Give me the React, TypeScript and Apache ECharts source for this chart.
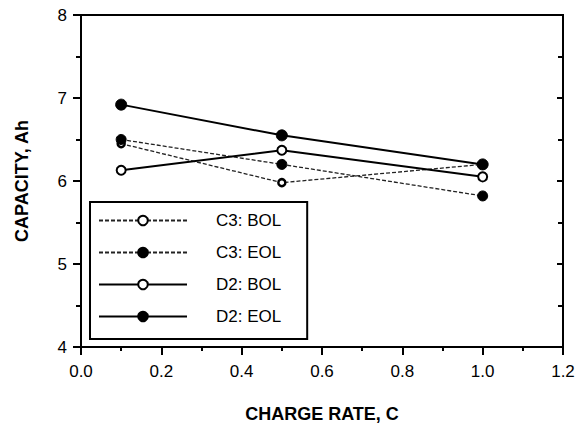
import React, { useEffect, useRef } from "react";
import * as echarts from "echarts";

const chargeRates = [0.1, 0.5, 1.0];
const c3Bol = [6.45, 5.98, 6.2];
const c3Eol = [6.5, 6.2, 5.82];
const d2Bol = [6.13, 6.37, 6.05];
const d2Eol = [6.92, 6.55, 6.2];
const seriesNames = ["C3: BOL", "C3: EOL", "D2: BOL", "D2: EOL"];

const pair = (vals: number[]) => chargeRates.map((x, i) => [x, vals[i]]);

export default function App() {
  const ref = useRef<HTMLDivElement>(null);
  useEffect(() => {
    if (!ref.current) return;
    document.body.style.margin = "0";
    const chart = echarts.init(ref.current, null, { renderer: "svg" });
    const font = "Liberation Sans, Arial, Helvetica, sans-serif";
    const dotted = { color: "#222", width: 1.3, type: [4, 2] as any };
    const solid = { color: "#000", width: 2, type: "solid" as any };
    chart.setOption({
      animation: false,
      backgroundColor: "#fff",
      grid: {
        left: 81,
        right: 15,
        top: 15,
        bottom: 75,
        show: true,
        borderColor: "#000",
        borderWidth: 2,
      },
      legend: {
        data: seriesNames,
        orient: "vertical",
        left: 90,
        top: 202,
        backgroundColor: "#fff",
        borderColor: "#000",
        borderWidth: 2,
        borderRadius: 0,
        padding: [10, 26, 14, 8],
        itemWidth: 88,
        itemHeight: 12,
        itemGap: 15,
        textStyle: {
          fontFamily: font,
          fontSize: 17,
          color: "#000",
          padding: [0, 0, 0, 24],
        },
      },
      xAxis: {
        type: "value",
        min: 0,
        max: 1.2,
        interval: 0.2,
        name: "CHARGE RATE, C",
        nameLocation: "middle",
        nameGap: 58,
        nameTextStyle: { fontFamily: font, fontSize: 18, fontWeight: "bold", color: "#000" },
        axisLine: { show: true, onZero: false, lineStyle: { color: "#000", width: 2 } },
        axisTick: { show: true, inside: false, length: 8, lineStyle: { color: "#000", width: 2 } },
        minorTick: { show: true, splitNumber: 2, length: 4, lineStyle: { color: "#000", width: 2 } },
        axisLabel: {
          margin: 16,
          fontFamily: font,
          fontSize: 17,
          color: "#000",
          showMaxLabel: true,
          formatter: (v: number) => v.toFixed(1),
        },
        splitLine: { show: false },
      },
      yAxis: [
        {
          type: "value",
          min: 4,
          max: 8,
          interval: 1,
          name: "CAPACITY, Ah",
          nameLocation: "middle",
          nameGap: 50,
          nameTextStyle: { fontFamily: font, fontSize: 18, fontWeight: "bold", color: "#000" },
          axisLine: { show: true, onZero: false, lineStyle: { color: "#000", width: 2 } },
          axisTick: { show: true, inside: false, length: 8, lineStyle: { color: "#000", width: 2 } },
          minorTick: { show: true, splitNumber: 2, length: 5, lineStyle: { color: "#000", width: 2 } },
          axisLabel: { margin: 14, fontFamily: font, fontSize: 17, color: "#000" },
          splitLine: { show: false },
        },
        {
          type: "value",
          position: "right",
          min: 4,
          max: 8,
          interval: 1,
          axisLine: { show: true, onZero: false, lineStyle: { color: "#000", width: 2 } },
          axisTick: { show: true, inside: true, length: 6, lineStyle: { color: "#000", width: 2 } },
          minorTick: { show: true, splitNumber: 2, length: 5, lineStyle: { color: "#000", width: 2 } },
          axisLabel: { show: false },
          splitLine: { show: false },
        },
      ],
      series: [
        {
          name: seriesNames[0],
          type: "line",
          data: pair(c3Bol),
          symbol: "circle",
          symbolSize: 7,
          lineStyle: dotted,
          itemStyle: { color: "#fff", borderColor: "#000", borderWidth: 2.5 },
          z: 3,
        },
        {
          name: seriesNames[1],
          type: "line",
          data: pair(c3Eol),
          symbol: "circle",
          symbolSize: 10,
          lineStyle: dotted,
          itemStyle: { color: "#000", borderColor: "#000", borderWidth: 1 },
          z: 3,
        },
        {
          name: seriesNames[2],
          type: "line",
          data: pair(d2Bol),
          symbol: "circle",
          symbolSize: 9,
          lineStyle: solid,
          itemStyle: { color: "#fff", borderColor: "#000", borderWidth: 2 },
          z: 4,
        },
        {
          name: seriesNames[3],
          type: "line",
          data: pair(d2Eol),
          symbol: "circle",
          symbolSize: 11,
          lineStyle: solid,
          itemStyle: { color: "#000", borderColor: "#000", borderWidth: 1 },
          z: 4,
        },
      ],
    });
    return () => chart.dispose();
  }, []);
  return (
    <div
      ref={ref}
      style={{ position: "fixed", left: 0, top: 0, width: 578, height: 428 }}
    />
  );
}
